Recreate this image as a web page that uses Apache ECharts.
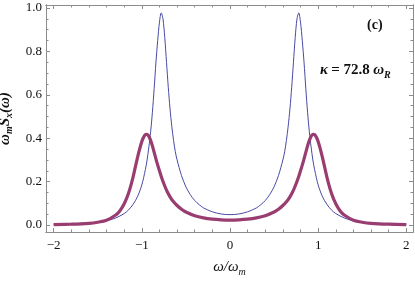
<!DOCTYPE html>
<html>
<head>
<meta charset="utf-8">
<script src="https://cdn.jsdelivr.net/npm/echarts@6/dist/echarts.min.js"></script>
<style>html,body{margin:0;padding:0;background:#fff;}#c{width:415px;height:281px;}</style>
</head>
<body>
<div id="c"></div>
<script>
// ---- data ----
const omegaThin = [-2, -1.8, -1.6, -1.5, -1.4, -1.3, -1.2, -1.15, -1.1, -1.05, -1.0, -0.96, -0.94, -0.92, -0.9, -0.88, -0.86, -0.84, -0.82, -0.8, -0.78, -0.76, -0.74, -0.72, -0.7, -0.68, -0.66, -0.64, -0.62, -0.6, -0.55, -0.5, -0.45, -0.4, -0.35, -0.3, -0.2, -0.1, 0,
  0.1, 0.2, 0.3, 0.35, 0.4, 0.45, 0.5, 0.55, 0.6, 0.62, 0.64, 0.66, 0.68, 0.7, 0.72, 0.74, 0.76, 0.78, 0.8, 0.82, 0.84, 0.86, 0.88, 0.9, 0.92, 0.94, 0.96, 1.0, 1.05, 1.1, 1.15, 1.2, 1.3, 1.4, 1.5, 1.6, 1.8, 2];
const spectrumThin = [0.004, 0.006, 0.010, 0.014, 0.020, 0.032, 0.053, 0.070, 0.095, 0.13, 0.185, 0.255, 0.30, 0.36, 0.43, 0.52, 0.63, 0.75, 0.85, 0.935, 0.978, 0.95, 0.865, 0.75, 0.635, 0.535, 0.455, 0.39, 0.338, 0.30, 0.228, 0.176, 0.14, 0.113, 0.094, 0.079, 0.061, 0.051, 0.048,
  0.051, 0.061, 0.079, 0.094, 0.113, 0.14, 0.176, 0.228, 0.30, 0.338, 0.39, 0.455, 0.535, 0.635, 0.75, 0.865, 0.95, 0.978, 0.935, 0.85, 0.75, 0.63, 0.52, 0.43, 0.36, 0.30, 0.255, 0.185, 0.13, 0.095, 0.070, 0.053, 0.032, 0.020, 0.014, 0.010, 0.006, 0.004];
const omegaThick = [-2, -1.8, -1.6, -1.5, -1.4, -1.3, -1.25, -1.2, -1.15, -1.1, -1.05, -1.0, -0.97, -0.95, -0.93, -0.91, -0.89, -0.87, -0.85, -0.83, -0.8, -0.77, -0.74, -0.71, -0.68, -0.65, -0.6, -0.55, -0.5, -0.4, -0.3, -0.2, -0.1, 0,
  0.1, 0.2, 0.3, 0.4, 0.5, 0.55, 0.6, 0.65, 0.68, 0.71, 0.74, 0.77, 0.8, 0.83, 0.85, 0.87, 0.89, 0.91, 0.93, 0.95, 0.97, 1.0, 1.05, 1.1, 1.15, 1.2, 1.25, 1.3, 1.4, 1.5, 1.6, 1.8, 2];
const spectrumThick = [0.002, 0.004, 0.008, 0.013, 0.022, 0.045, 0.065, 0.098, 0.148, 0.22, 0.31, 0.385, 0.412, 0.418, 0.415, 0.40, 0.378, 0.35, 0.32, 0.29, 0.25, 0.212, 0.18, 0.152, 0.13, 0.112, 0.09, 0.073, 0.06, 0.043, 0.033, 0.027, 0.024, 0.023,
  0.024, 0.027, 0.033, 0.043, 0.06, 0.073, 0.09, 0.112, 0.13, 0.152, 0.18, 0.212, 0.25, 0.29, 0.32, 0.35, 0.378, 0.40, 0.415, 0.418, 0.412, 0.385, 0.31, 0.22, 0.148, 0.098, 0.065, 0.045, 0.022, 0.013, 0.008, 0.004, 0.002];
const xMajorTicks = [-2, -1, 0, 1, 2];
const xMinorTicks = [-1.8, -1.6, -1.4, -1.2, -0.8, -0.6, -0.4, -0.2, 0.2, 0.4, 0.6, 0.8, 1.2, 1.4, 1.6, 1.8];
const yMajorTicks = [0, 0.2, 0.4, 0.6, 0.8, 1.0];
const yMinorTicks = [0.05, 0.1, 0.15, 0.25, 0.3, 0.35, 0.45, 0.5, 0.55, 0.65, 0.7, 0.75, 0.85, 0.9, 0.95];
const panelLabel = '(c)';
const paramLabel = '= 72.8';

// ---- chart ----
const serif = 'Liberation Serif';
const frameColor = '#8c8c8c';
const xMin = -2.087, xMax = 2.076, yMin = -0.032, yMax = 1.014;

function pairs(xs, ys) { return xs.map((x, i) => [x, ys[i]]); }

function xAx(pos, ticks, len, labels) {
  return {
    type: 'value', min: xMin, max: xMax, position: pos,
    axisLine: { show: true, onZero: false, lineStyle: { color: frameColor, width: 1 } },
    axisTick: { show: true, inside: true, length: len, customValues: ticks, lineStyle: { color: frameColor, width: 1 } },
    axisLabel: labels ? {
      show: true, customValues: xMajorTicks, margin: 7, color: '#111',
      fontFamily: serif, fontSize: 13,
      formatter: v => String(v).replace('-', '\u2212')
    } : { show: false },
    splitLine: { show: false }
  };
}
function yAx(pos, ticks, len, labels) {
  return {
    type: 'value', min: yMin, max: yMax, position: pos,
    axisLine: { show: true, onZero: false, lineStyle: { color: frameColor, width: 1 } },
    axisTick: { show: true, inside: true, length: len, customValues: ticks, lineStyle: { color: frameColor, width: 1 } },
    axisLabel: labels ? {
      show: true, customValues: yMajorTicks, margin: 4, color: '#111',
      fontFamily: serif, fontSize: 13,
      formatter: v => v.toFixed(1)
    } : { show: false },
    splitLine: { show: false }
  };
}

const xAxes = [
  xAx('bottom', xMajorTicks, 4, true),
  xAx('bottom', xMinorTicks, 2.5, false),
  xAx('top', xMajorTicks, 4, false),
  xAx('top', xMinorTicks, 2.5, false)
];
xAxes[0].name = '{i|\u03c9/\u03c9}{s|m}';
xAxes[0].nameLocation = 'middle';
xAxes[0].nameGap = 28;
xAxes[0].nameTextStyle = {
  rich: {
    i: { fontFamily: serif, fontStyle: 'italic', fontSize: 15, color: '#111', lineHeight: 18, verticalAlign: 'top' },
    s: { fontFamily: serif, fontStyle: 'italic', fontSize: 10, color: '#111', lineHeight: 10, padding: [7, 0, 0, 0], verticalAlign: 'top' }
  }
};

const yAxes = [
  yAx('left', yMajorTicks, 4, true),
  yAx('left', yMinorTicks, 2.5, false),
  yAx('right', yMajorTicks, 4, false),
  yAx('right', yMinorTicks, 2.5, false)
];
yAxes[0].name = '{i|\u03c9}{s|m}{i|S}{s|x}{i|(\u03c9)}';
yAxes[0].nameLocation = 'middle';
yAxes[0].nameRotate = 90;
yAxes[0].nameGap = 27;
yAxes[0].nameTextStyle = {
  rich: {
    i: { fontFamily: serif, fontStyle: 'italic', fontWeight: 'bold', fontSize: 15, color: '#111', lineHeight: 18, verticalAlign: 'top' },
    s: { fontFamily: serif, fontStyle: 'italic', fontWeight: 'bold', fontSize: 10, color: '#111', lineHeight: 10, padding: [7, 0, 0, 0], verticalAlign: 'top' }
  }
};

const chart = echarts.init(document.getElementById('c'), null, { renderer: 'canvas' });
chart.setOption({
  animation: false,
  backgroundColor: '#fff',
  grid: { left: 46, right: 2, top: 5, bottom: 49, containLabel: false, outerBoundsMode: 'none' },
  xAxis: xAxes,
  yAxis: yAxes,
  series: [
    {
      type: 'line', xAxisIndex: 0, yAxisIndex: 0,
      data: pairs(omegaThin, spectrumThin),
      showSymbol: false, smooth: 0.3, z: 2,
      lineStyle: { color: '#4a4aa6', width: 1 }
    },
    {
      type: 'line', xAxisIndex: 0, yAxisIndex: 0,
      data: pairs(omegaThick, spectrumThick),
      showSymbol: false, smooth: 0.3, z: 3,
      lineStyle: { color: '#993d71', width: 3.2 }
    }
  ],
  graphic: [
    {
      type: 'text', left: 367, top: 18,
      style: { text: panelLabel, fontFamily: serif, fontWeight: 'bold', fontSize: 14, fill: '#111' }
    },
    {
      type: 'text', left: 320, top: 63,
      style: {
        text: '{g|\u03ba} {b|' + paramLabel + '} {g|\u03c9}{s|R}',
        rich: {
          g: { fontFamily: serif, fontStyle: 'italic', fontWeight: 'bold', fontSize: 15, fill: '#111', lineHeight: 18, verticalAlign: 'top' },
          b: { fontFamily: serif, fontWeight: 'bold', fontSize: 15, fill: '#111', lineHeight: 18, verticalAlign: 'top' },
          s: { fontFamily: serif, fontStyle: 'italic', fontWeight: 'bold', fontSize: 10, fill: '#111', lineHeight: 10, padding: [7, 0, 0, 0], verticalAlign: 'top' }
        }
      }
    }
  ]
});
</script>
</body>
</html>
